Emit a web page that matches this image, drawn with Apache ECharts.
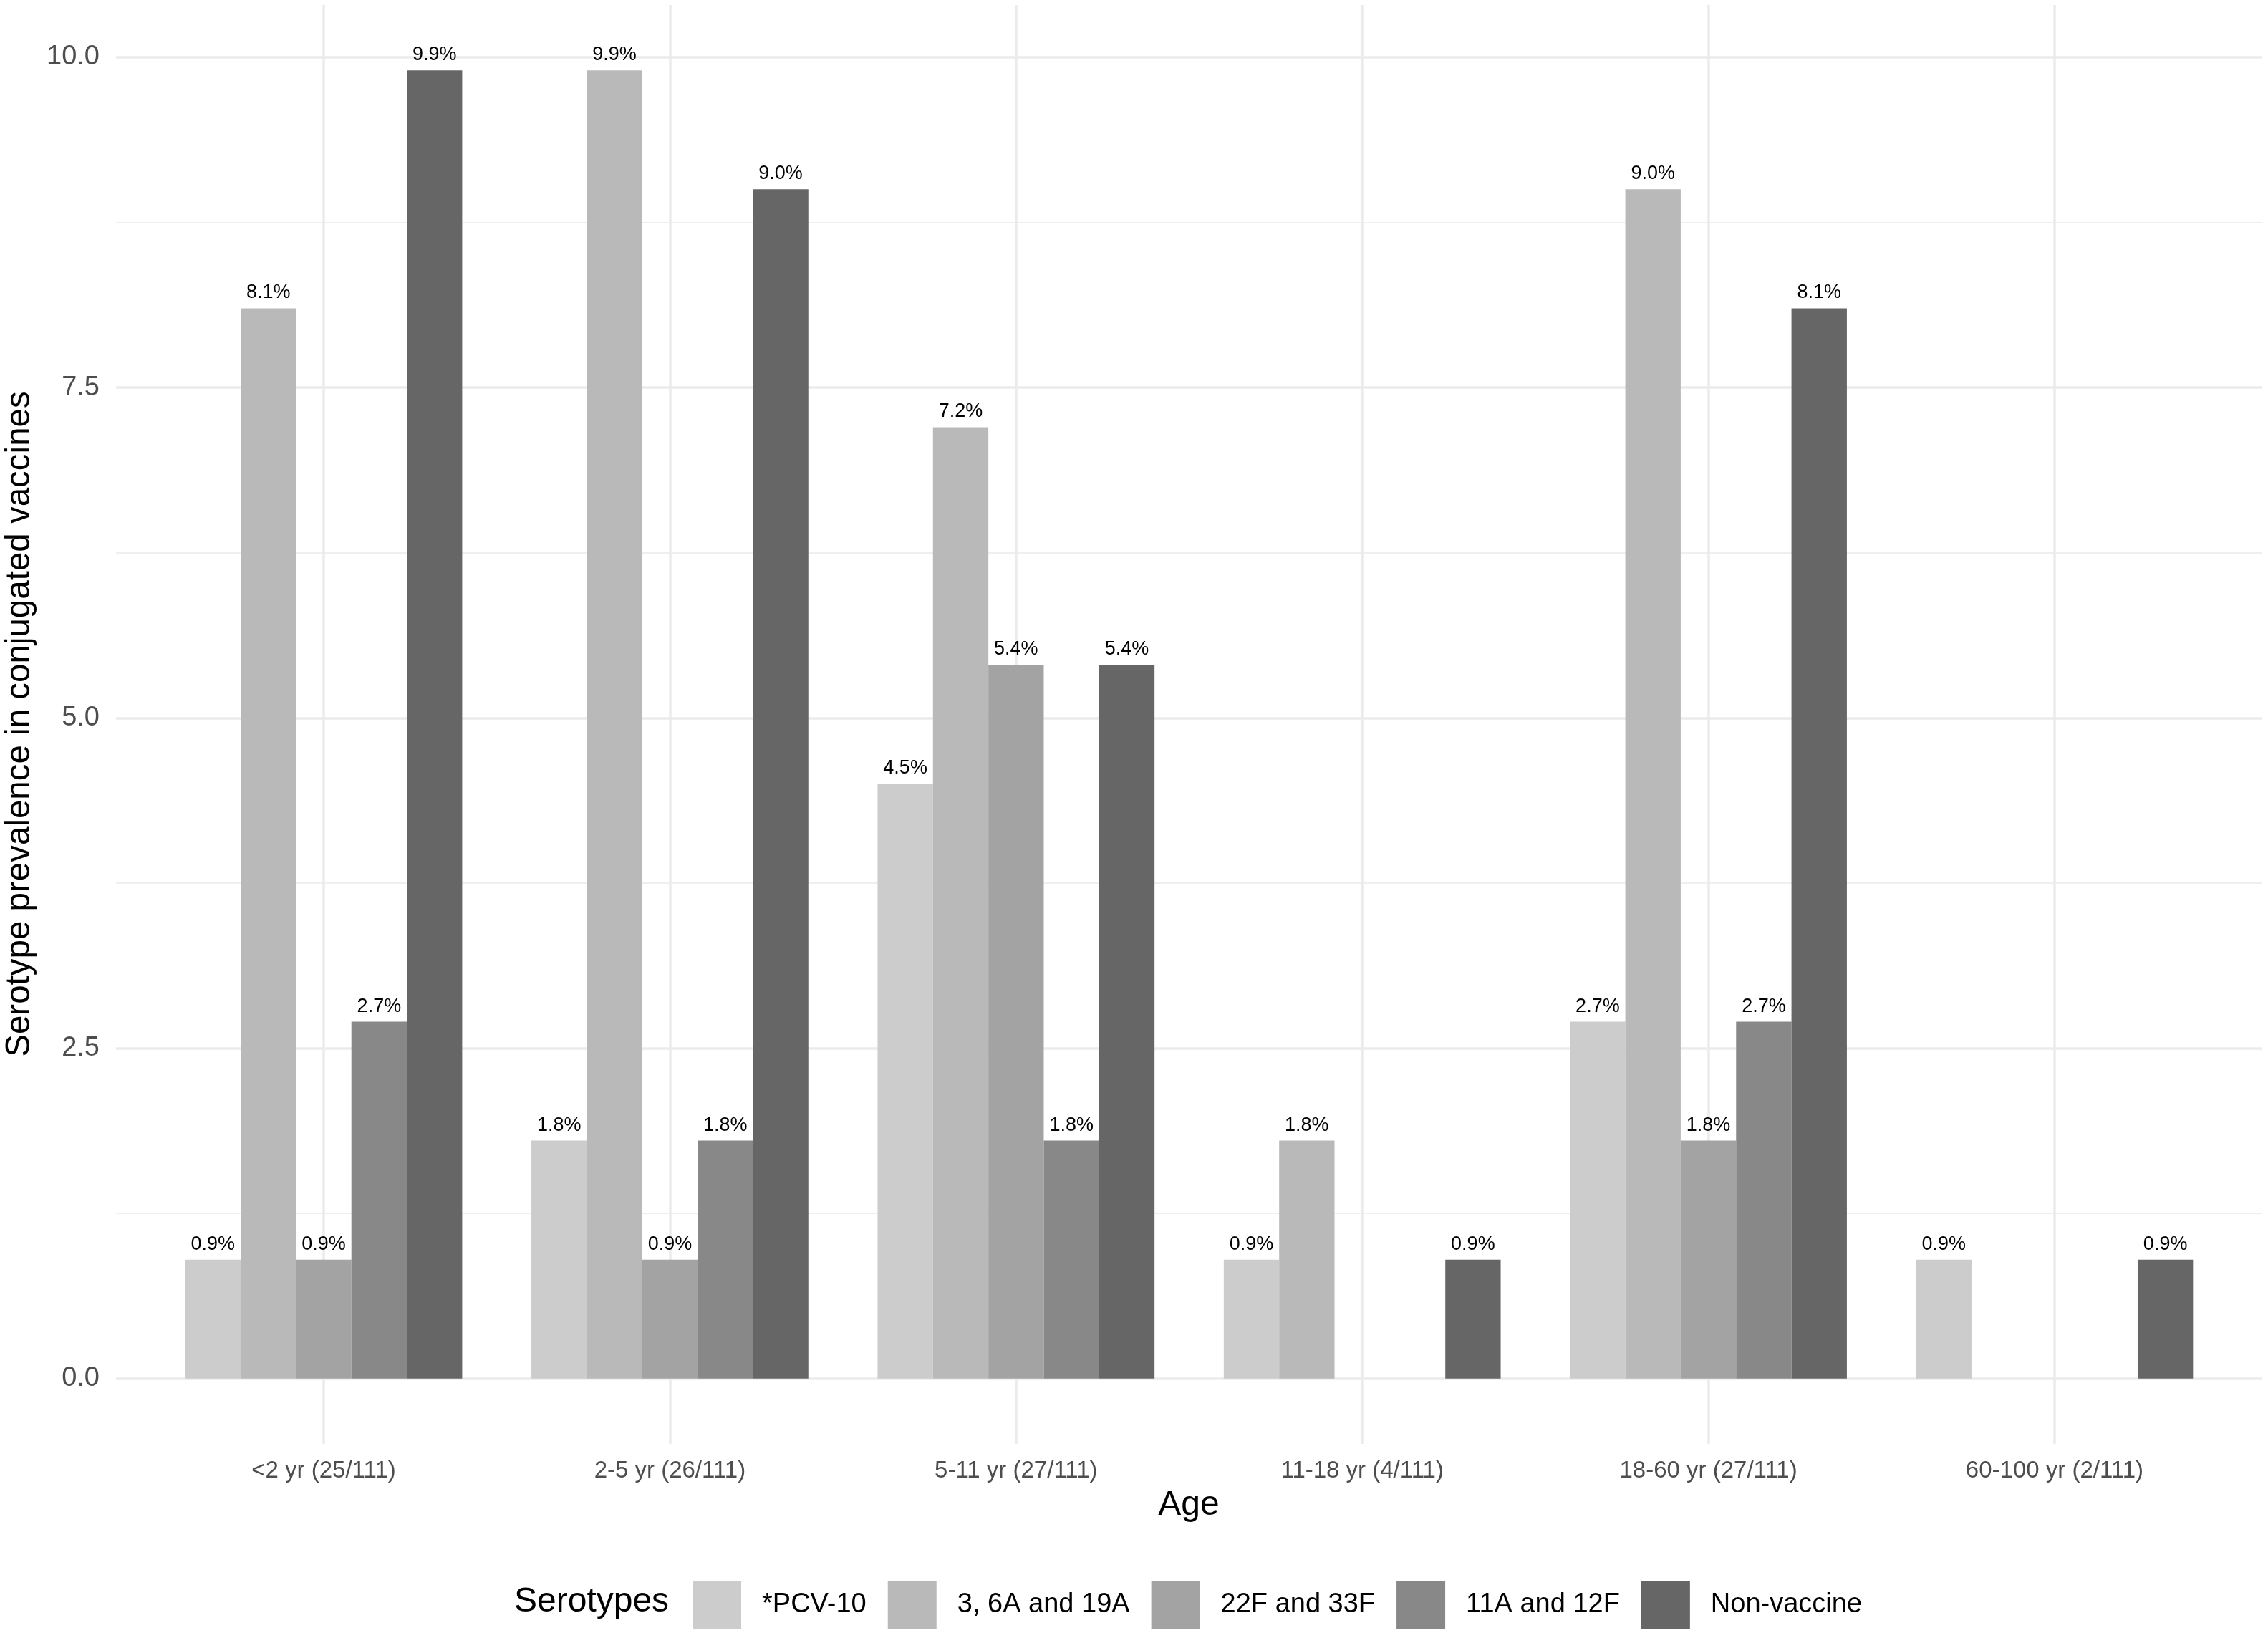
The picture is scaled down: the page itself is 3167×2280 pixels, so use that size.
<!DOCTYPE html>
<html>
<head>
<meta charset="utf-8">
<script src="https://cdn.jsdelivr.net/npm/echarts@6/dist/echarts.min.js"></script>
<style>
  html, body { margin: 0; padding: 0; background: #ffffff; }
  #chart { width: 3167px; height: 2280px; }
</style>
</head>
<body>
<div id="chart"></div>
<script>
// ---- data ----
const ageGroups = ['<2 yr (25/111)', '2-5 yr (26/111)', '5-11 yr (27/111)', '11-18 yr (4/111)', '18-60 yr (27/111)', '60-100 yr (2/111)'];
const serotypeGroups = ['*PCV-10', '3, 6A and 19A', '22F and 33F', '11A and 12F', 'Non-vaccine'];
const pcv10 =      [0.9, 1.8, 4.5, 0.9, 2.7, 0.9];
const s3_6A_19A =  [8.1, 9.9, 7.2, 1.8, 9.0, null];
const s22F_33F =   [0.9, 0.9, 5.4, null, 1.8, null];
const s11A_12F =   [2.7, 1.8, 1.8, null, 2.7, null];
const nonVaccine = [9.9, 9.0, 5.4, 0.9, 8.1, 0.9];
const yMajorTicks = [0, 2.5, 5, 7.5, 10];
const yMinorTicks = [1.25, 3.75, 6.25, 8.75];
const xGridPositions = [0.6, 1.6, 2.6, 3.6, 4.6, 5.6];

const seriesValues = [pcv10, s3_6A_19A, s22F_33F, s11A_12F, nonVaccine];
const barColors = ['#CCCCCC', '#B9B9B9', '#A3A3A3', '#888888', '#666666'];

const FONT = 'Liberation Sans, Arial, Helvetica, sans-serif';
const Y_MIN = -0.495, Y_MAX = 10.395;

const chart = echarts.init(document.getElementById('chart'), null, { renderer: 'canvas' });

const option = {
  backgroundColor: '#ffffff',
  animation: false,
  grid: [
    { left: 162, right: 8, top: 7, bottom: 264, containLabel: false },
    { left: 210.35, right: 56.35, top: 7, bottom: 264, containLabel: false }
  ],
  xAxis: [
    {
      gridIndex: 0, type: 'value', min: 0, max: 6.2,
      axisLine: { show: false },
      axisTick: { show: false, customValues: xGridPositions },
      axisLabel: { show: false },
      splitLine: { show: true, lineStyle: { color: '#EBEBEB', width: 3.5 } }
    },
    {
      gridIndex: 1, type: 'category', data: ageGroups,
      axisLine: { show: false },
      axisTick: { show: false },
      splitLine: { show: false },
      axisLabel: { show: true, interval: 0, margin: 21, fontSize: 33, color: '#4D4D4D', fontFamily: FONT }
    }
  ],
  yAxis: [
    {
      gridIndex: 0, type: 'value', min: Y_MIN, max: Y_MAX,
      axisLine: { show: false },
      axisTick: { show: false, customValues: yMajorTicks },
      axisLabel: {
        show: true, customValues: yMajorTicks, margin: 23, fontSize: 38, color: '#4D4D4D', fontFamily: FONT,
        formatter: v => Number(v).toFixed(1)
      },
      splitLine: { show: true, lineStyle: { color: '#EBEBEB', width: 3.5 } }
    },
    {
      gridIndex: 0, type: 'value', min: Y_MIN, max: Y_MAX, position: 'left',
      axisLine: { show: false },
      axisTick: { show: false, customValues: yMinorTicks },
      axisLabel: { show: false },
      splitLine: { show: true, lineStyle: { color: '#EFEFEF', width: 1.8 } }
    },
    {
      gridIndex: 1, type: 'value', min: Y_MIN, max: Y_MAX, show: false,
      splitLine: { show: false }
    }
  ],
  legend: {
    data: serotypeGroups,
    left: 962, top: 2202,
    orient: 'horizontal',
    icon: 'rect',
    itemWidth: 68, itemHeight: 68, itemGap: 30,
    textStyle: { fontSize: 38, color: '#000000', fontFamily: FONT, padding: [0, 0, 0, 24] }
  },
  graphic: [
    {
      type: 'text', x: 718, y: 2237,
      style: { text: 'Serotypes', fontSize: 48, fontFamily: FONT, fill: '#000000', align: 'left', verticalAlign: 'middle' }
    },
    {
      type: 'text', x: 1660, y: 2102,
      style: { text: 'Age', fontSize: 48, fontFamily: FONT, fill: '#000000', align: 'center', verticalAlign: 'middle' }
    },
    {
      type: 'text', x: 28, y: 1011, rotation: Math.PI / 2,
      style: { text: 'Serotype prevalence in conjugated vaccines', fontSize: 47.5, fontFamily: FONT, fill: '#000000', align: 'center', verticalAlign: 'middle' }
    }
  ],
  series: serotypeGroups.map((name, i) => ({
    name: name,
    type: 'bar',
    xAxisIndex: 1, yAxisIndex: 2,
    data: seriesValues[i],
    barGap: '0%',
    barCategoryGap: '20%',
    itemStyle: { color: barColors[i] },
    label: {
      show: true, position: 'top', distance: 8,
      fontSize: 27, color: '#000000', fontFamily: FONT,
      formatter: p => (p.value === null || p.value === undefined || isNaN(p.value)) ? '' : Number(p.value).toFixed(1) + '%'
    }
  }))
};

chart.setOption(option);
</script>
</body>
</html>
